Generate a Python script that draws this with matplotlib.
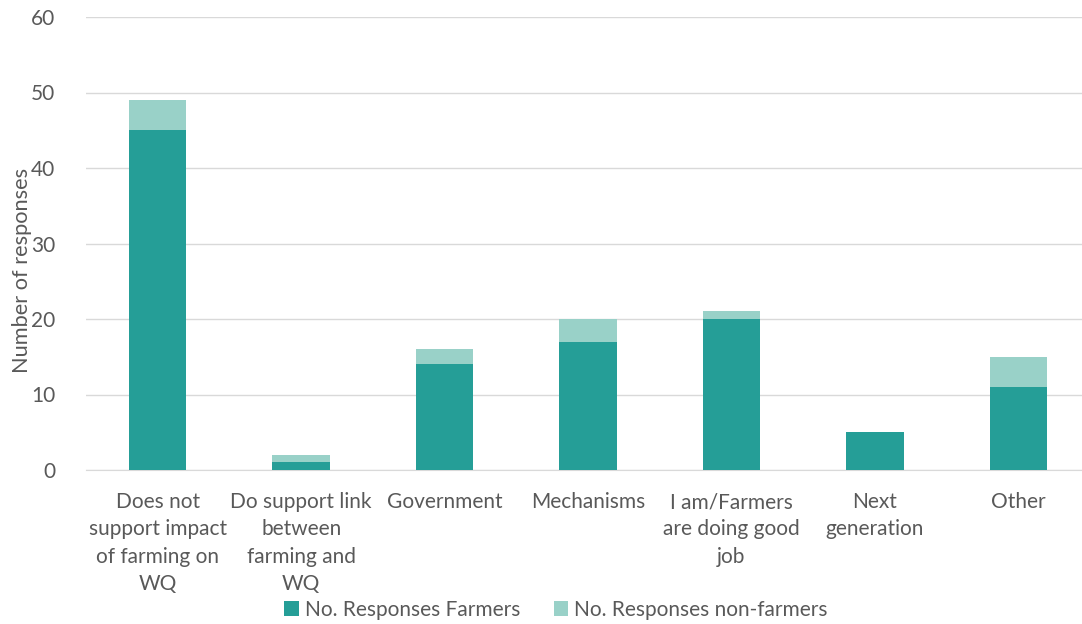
import matplotlib
matplotlib.use("Agg")
import matplotlib.pyplot as plt
import numpy as np

categories = ["Does not\nsupport impact\nof farming on\nWQ", "Do support link\nbetween\nfarming and\nWQ",
              "Government", "Mechanisms", "I am/Farmers\nare doing good\njob", "Next\ngeneration", "Other"]
farmers = [45, 1, 14, 17, 20, 5, 11]
non_farmers = [4, 1, 2, 3, 1, 0, 4]
yticks = [0, 10, 20, 30, 40, 50, 60]

plt.rcParams['font.family'] = ['Lato', 'DejaVu Sans']
tc = '#595959'
fig = plt.figure(figsize=(10.82, 6.24), dpi=100)
ax = fig.add_axes([86/1082, 1-470/624, (1090-86)/1082, (470-17)/624])
x = np.arange(len(categories))
c1 = '#259E97'
c2 = '#99D1C8'
ax.bar(x, farmers, width=0.4, color=c1, label='No. Responses Farmers', zorder=3)
ax.bar(x, non_farmers, width=0.4, bottom=farmers, color=c2, label='No. Responses non-farmers', zorder=3)
ax.set_xlim(-0.5, len(categories)-0.5)
ax.set_ylim(0, 60)
ax.set_yticks(yticks)
ax.grid(axis='y', color='#D9D9D9', linewidth=1, zorder=0)
ax.set_xticks(x)
ax.set_xticklabels(categories, fontsize=15, color=tc, linespacing=1.45)
ax.tick_params(axis='y', labelsize=15, labelcolor=tc, length=0, pad=22)
ax.tick_params(axis='x', length=0, pad=16)
for s in ['top', 'right', 'left']:
    ax.spines[s].set_visible(False)
ax.spines['bottom'].set_color('#D9D9D9')
ax.set_ylabel('Number of responses', fontsize=15.7, color=tc)
ax.yaxis.set_label_coords(-0.054, 0.44)
leg = fig.legend(loc='center', bbox_to_anchor=(556/1082, 1-610/624), ncol=2, frameon=False,
                 fontsize=15, labelcolor=tc, handlelength=0.7, handleheight=0.7, columnspacing=1.6, handletextpad=0.3)
fig.savefig('out.png', dpi=100)
